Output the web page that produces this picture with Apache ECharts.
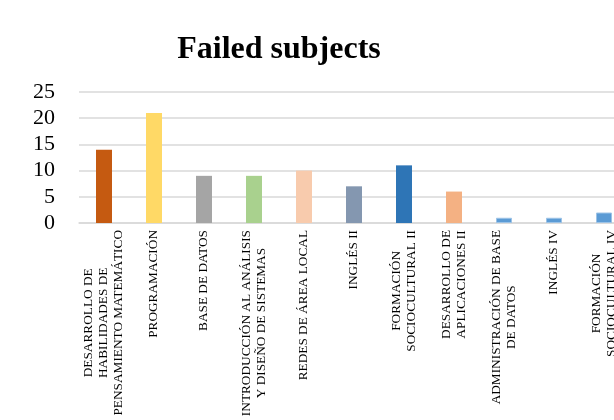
<!DOCTYPE html>
<html>
<head>
<meta charset="utf-8">
<script src="https://cdn.jsdelivr.net/npm/echarts@6/dist/echarts.min.js"></script>
<style>
  html, body { margin: 0; padding: 0; background: #fff; overflow: hidden; }
  /* canvas is wider than the page so the last category runs off the right edge */
  #chart { width: 640px; height: 420px; }
</style>
</head>
<body>
<div id="chart"></div>
<script>
// Subjects (line breaks mark how each label wraps)
const subjects = [
  'DESARROLLO DE\nHABILIDADES DE\nPENSAMIENTO MATEMÁTICO',
  'PROGRAMACIÓN',
  'BASE DE DATOS',
  'INTRODUCCIÓN AL ANÁLISIS\nY DISEÑO DE SISTEMAS',
  'REDES DE ÁREA LOCAL',
  'INGLÉS II',
  'FORMACIÓN\nSOCIOCULTURAL II',
  'DESARROLLO DE\nAPLICACIONES II',
  'ADMINISTRACIÓN DE BASE\nDE DATOS',
  'INGLÉS IV',
  'FORMACIÓN\nSOCIOCULTURAL IV'
];

// Number of students who failed each subject
const failed = [14, 21, 9, 9, 10, 7, 11, 6, 1, 1, 2];

// One fill per bar
const barColors = [
  '#C55A11', '#FFD966', '#A5A5A5', '#A9D18E', '#F8CBAD', '#8497B0',
  '#2E75B6', '#F4B183', '#5B9BD5', '#5B9BD5', '#5B9BD5'
];
const barBorders = [
  null, null, null, null, null, null, null, null, '#9DC3E6', '#9DC3E6', '#9DC3E6'
];

const yTicks = { min: 0, max: 25, interval: 5 };

const serif = '"Liberation Serif", "Times New Roman", serif';

const chart = echarts.init(document.getElementById('chart'), null, { renderer: 'canvas' });

chart.setOption({
  animation: false,
  backgroundColor: '#ffffff',
  title: {
    text: 'Failed subjects',
    left: 274,
    textAlign: 'center',
    top: 29,
    textStyle: { fontFamily: serif, fontWeight: 'bold', fontSize: 32, color: '#000' }
  },
  grid: { left: 79, top: 92, width: 550, height: 131, containLabel: false },
  xAxis: {
    type: 'category',
    data: subjects,
    axisLine: { show: true, lineStyle: { color: '#D9D9D9', width: 1.5 } },
    axisTick: { show: false },
    axisLabel: {
      interval: 0,
      rotate: 90,
      margin: 7,
      fontFamily: serif,
      fontSize: 13,
      color: '#000',
      formatter: function (v) {
        return v.split('\n').map(function (l) { return '{c|' + l + '}'; }).join('\n');
      },
      rich: {
        c: { align: 'center', fontFamily: serif, fontSize: 13.3, lineHeight: 15, color: '#000' }
      }
    }
  },
  yAxis: {
    type: 'value',
    min: yTicks.min,
    max: yTicks.max,
    interval: yTicks.interval,
    axisLine: { show: false },
    axisTick: { show: false },
    splitLine: { lineStyle: { color: '#D9D9D9', width: 1.5 } },
    axisLabel: { margin: 24, fontFamily: serif, fontSize: 22, color: '#000' }
  },
  series: [{
    type: 'bar',
    barWidth: 16,
    data: failed.map(function (v, i) {
      const style = { color: barColors[i] };
      if (barBorders[i]) { style.borderColor = barBorders[i]; style.borderWidth = 1; }
      return { value: v, itemStyle: style };
    })
  }]
});
</script>
</body>
</html>
